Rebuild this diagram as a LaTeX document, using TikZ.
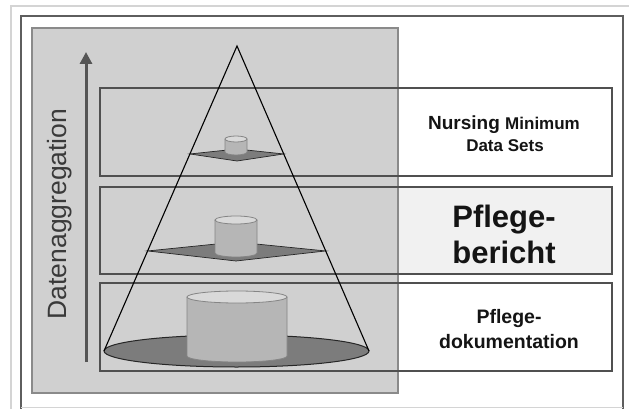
\documentclass[tikz,border=0pt]{standalone}
\usepackage{fontspec}
\setmainfont{Liberation Sans}
\usetikzlibrary{arrows.meta,calc}
\definecolor{outerline}{HTML}{D4D4D4}
\definecolor{framecol}{HTML}{5E5E5E}
\definecolor{panelfill}{HTML}{D0D0D0}
\definecolor{paneldraw}{HTML}{8A8A8A}
\definecolor{boxcol}{HTML}{505050}
\definecolor{midfill}{HTML}{F1F1F1}
\definecolor{basefill}{HTML}{7C7C7C}
\definecolor{cylbody}{HTML}{B6B6B6}
\definecolor{cyltop}{HTML}{D9D9D9}
\definecolor{cyldraw}{HTML}{858585}
\definecolor{arrowcol}{HTML}{555555}
\definecolor{txtcol}{HTML}{141414}
\definecolor{aggcol}{HTML}{3A3A3A}
\tikzset{
  levelbox/.style={draw=boxcol, line width=1.4pt},
  plane/.style={fill=basefill, draw=black!85, line width=0.7pt},
  conel/.style={draw=black, line width=1.1pt},
  lbl/.style={anchor=base, text=txtcol, inner sep=0pt, font=\bfseries},
}
\newcommand\mycylinder[5]{% cx, ytop, ybot, rx, ry
  \fill[cylbody] (#1-#4,#2) -- (#1-#4,#3)
     arc[start angle=180,end angle=360,x radius=#4pt,y radius=#5pt]
     -- (#1+#4,#2) -- cycle;
  \draw[cyldraw, line width=0.8pt] (#1-#4,#2) -- (#1-#4,#3)
     arc[start angle=180,end angle=360,x radius=#4pt,y radius=#5pt]
     -- (#1+#4,#2);
  \filldraw[fill=cyltop, draw=cyldraw, line width=0.8pt] (#1,#2) ellipse[x radius=#4pt, y radius=#5pt];
}
\begin{document}
\begin{tikzpicture}[x=1pt,y=-1pt]
\useasboundingbox (0,0) rectangle (629,409);
\fill[white] (0,0) rectangle (629,409);
% outer frames
\draw[outerline, line width=1.5pt] (11,412) -- (11,6) -- (632,6);
\draw[framecol, line width=2.4pt] (21,416) -- (21,16) -- (623,16) -- (623,416);
\draw[outerline, line width=1pt] (21,407) -- (623,407);
% middle box background
\fill[midfill] (100,187) rectangle (612,274);
% gray panel
\filldraw[fill=panelfill, draw=paneldraw, line width=1.5pt] (32,28) rectangle (398,393);
% level boxes
\draw[levelbox] (100,88) rectangle (612,176);
\draw[levelbox] (100,187) rectangle (612,274);
\draw[levelbox] (100,283) rectangle (612,371);
% cone geometry
\coordinate (apex) at (237,46);
\coordinate (bl) at (104,351);
\coordinate (br) at (369,351);
\coordinate (t1) at ($(apex)!0.354!(bl)$);
\coordinate (t2) at ($(apex)!0.354!(br)$);
\coordinate (m1) at ($(apex)!0.672!(bl)$);
\coordinate (m2) at ($(apex)!0.672!(br)$);
% base ellipse
\draw[plane, line width=1pt] (236.5,351) ellipse[x radius=132.5pt, y radius=16pt];
\mycylinder{237}{297}{356}{50}{6}
% middle plane
\draw[plane] (m1) -- (236,242) -- (m2) -- (236,261) -- cycle;
\mycylinder{236}{220}{253}{21}{4}
% top plane
\draw[plane] (t1) -- (237,149) -- (t2) -- (237,161) -- cycle;
\mycylinder{236}{139}{152}{11}{3}
% cone sides
\draw[conel] (bl) -- (apex) -- (br);
% arrow
\coordinate (arrS) at (86,362);
\coordinate (arrE) at (86,52);
\draw[arrowcol, line width=3pt, -{Triangle[length=12pt,width=12pt]}] (arrS) -- (arrE);
\node[rotate=90, text=aggcol, inner sep=0pt, font=\fontsize{26.5}{30}\selectfont] (agg) at (60,214) {Datenaggregation};
% labels
\node[lbl] (nmds1) at (504,130) {\fontsize{19}{21}\selectfont Nursing \fontsize{17}{21}\selectfont Minimum};
\node[lbl] (nmds2) at (505,152) {\fontsize{17}{21}\selectfont Data Sets};
\node[lbl] (pb1) at (504,227) {\fontsize{31}{36}\selectfont Pflege-};
\node[lbl] (pb2) at (504,263) {\fontsize{31}{36}\selectfont bericht};
\node[lbl] (pd1) at (509,323) {\fontsize{19.5}{24}\selectfont Pflege-};
\node[lbl] (pd2) at (509,348) {\fontsize{19.5}{24}\selectfont dokumentation};
\end{tikzpicture}
\end{document}
